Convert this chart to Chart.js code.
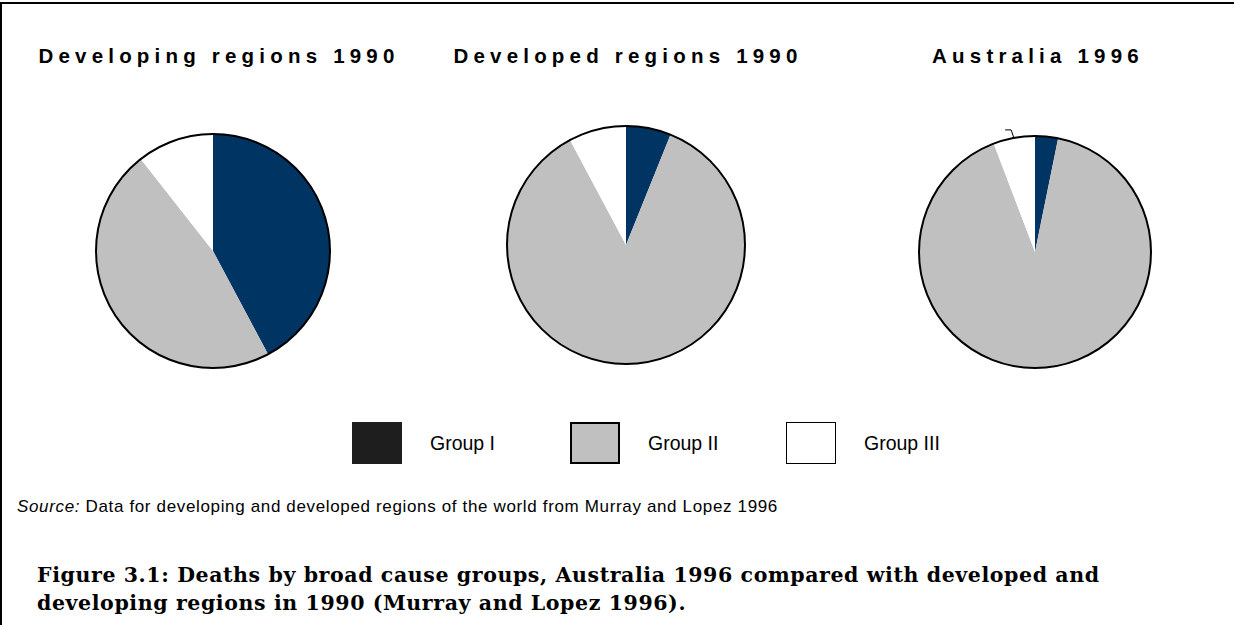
<!DOCTYPE html>
<html>
<head>
<meta charset="utf-8">
<script src="https://cdn.jsdelivr.net/npm/chart.js@4/dist/chart.umd.min.js"></script>
<style>
  body { margin: 0; background: #fff; }
  #page { position: relative; width: 1237px; height: 625px; overflow: hidden; }
  .frame-top { position: absolute; left: 0; top: 2px; width: 1234px; height: 2px; background: #000; }
  .frame-left { position: absolute; left: 0; top: 2px; width: 2px; height: 623px; background: #000; }
  .title { position: absolute; top: 44px; width: 420px; text-align: center;
           font: bold 20.5px "Liberation Sans", Arial, sans-serif; letter-spacing: 5.2px; color: #000; }
  .pie { position: absolute; width: 260px; height: 260px; }
  .legend-item { position: absolute; top: 422px; }
  .legend-box { position: absolute; width: 50px; height: 42px; box-sizing: border-box; }
  .legend-label { position: absolute; left: 78px; top: 10px; white-space: nowrap;
                  font: 19.5px "Liberation Sans", Arial, sans-serif; color: #000; }
  #source { position: absolute; left: 17px; top: 497px; white-space: nowrap; letter-spacing: 0.65px;
            font: 17px "Liberation Sans", Arial, sans-serif; color: #000; }
  #caption { position: absolute; left: 37px; top: 561px; white-space: nowrap; letter-spacing: 0.6px;
             font: bold 20.5px "DejaVu Serif", serif; line-height: 28px; color: #000; }
</style>
</head>
<body>
<div id="page">
  <div class="frame-top"></div>
  <div class="frame-left"></div>

  <div class="title" style="left:9px">Developing regions 1990</div>
  <div class="title" style="left:418px">Developed regions 1990</div>
  <div class="title" style="left:828px">Australia 1996</div>

  <div class="pie" style="left:83px; top:121px"><canvas id="pie1"></canvas></div>
  <div class="pie" style="left:496px; top:115px"><canvas id="pie2"></canvas></div>
  <div class="pie" style="left:905px; top:122px"><canvas id="pie3"></canvas></div>

  <div class="legend-item" style="left:352px">
    <div class="legend-box" style="background:#1e1e1e"></div>
    <div class="legend-label">Group I</div>
  </div>
  <div class="legend-item" style="left:570px">
    <div class="legend-box" style="background:#c0c0c0; border:2px solid #000"></div>
    <div class="legend-label">Group II</div>
  </div>
  <div class="legend-item" style="left:786px">
    <div class="legend-box" style="background:#fff; border:1.5px solid #000"></div>
    <div class="legend-label">Group III</div>
  </div>

  <div id="source"><i>Source:</i> Data for developing and developed regions of the world from Murray and Lopez 1996</div>
  <div id="caption">Figure 3.1: Deaths by broad cause groups, Australia 1996 compared with developed and<br>developing regions in 1990 (Murray and Lopez 1996).</div>
</div>

<script>
// Share of deaths (%) by broad cause group
const groups = ['Group I', 'Group II', 'Group III'];
const developing1990 = [42.2, 47.2, 10.6];
const developed1990 = [6.1, 86.1, 7.8];
const australia1996 = [3.2, 91.0, 5.8];

const sliceColors = ['#003462', '#c0c0c0', '#ffffff'];

// Black outline round the whole pie only (no lines between slices)
const outlinePlugin = {
    id: 'outline',
    afterDatasetsDraw(chart) {
        const arc = chart.getDatasetMeta(0).data[0];
        if (!arc) return;
        const ctx = chart.ctx;
        ctx.save();
        ctx.beginPath();
        ctx.arc(arc.x, arc.y, arc.outerRadius, 0, Math.PI * 2);
        ctx.lineWidth = 2;
        ctx.strokeStyle = '#000';
        ctx.stroke();
        ctx.restore();
    }
};

// Small leader line on the Group III slice of the Australia pie
const leaderPlugin = {
    id: 'leader',
    afterDatasetsDraw(chart) {
        const arc = chart.getDatasetMeta(0).data[2];
        if (!arc) return;
        const mid = (arc.startAngle + arc.endAngle) / 2;
        const px = arc.x + Math.cos(mid) * (arc.outerRadius - 1);
        const py = arc.y + Math.sin(mid) * (arc.outerRadius - 1);
        const ctx = chart.ctx;
        ctx.save();
        ctx.beginPath();
        ctx.moveTo(px, py);
        ctx.lineTo(px - 3, py - 9);
        ctx.lineTo(px - 9, py - 9);
        ctx.lineWidth = 1;
        ctx.strokeStyle = '#000';
        ctx.stroke();
        ctx.restore();
    }
};

function makePie(id, values, radius, extraPlugins) {
    const ctx = document.getElementById(id).getContext('2d');
    return new Chart(ctx, {
        type: 'pie',
        data: {
            labels: groups,
            datasets: [{
                data: values,
                backgroundColor: sliceColors,
                borderWidth: 0,
                radius: radius
            }]
        },
        options: {
            responsive: true,
            maintainAspectRatio: false,
            animation: false,
            layout: { padding: 0 },
            plugins: {
                legend: { display: false },
                tooltip: { enabled: false }
            }
        },
        plugins: [outlinePlugin].concat(extraPlugins || [])
    });
}

makePie('pie1', developing1990, 117);
makePie('pie2', developed1990, 119);
makePie('pie3', australia1996, 116, [leaderPlugin]);
</script>
</body>
</html>
